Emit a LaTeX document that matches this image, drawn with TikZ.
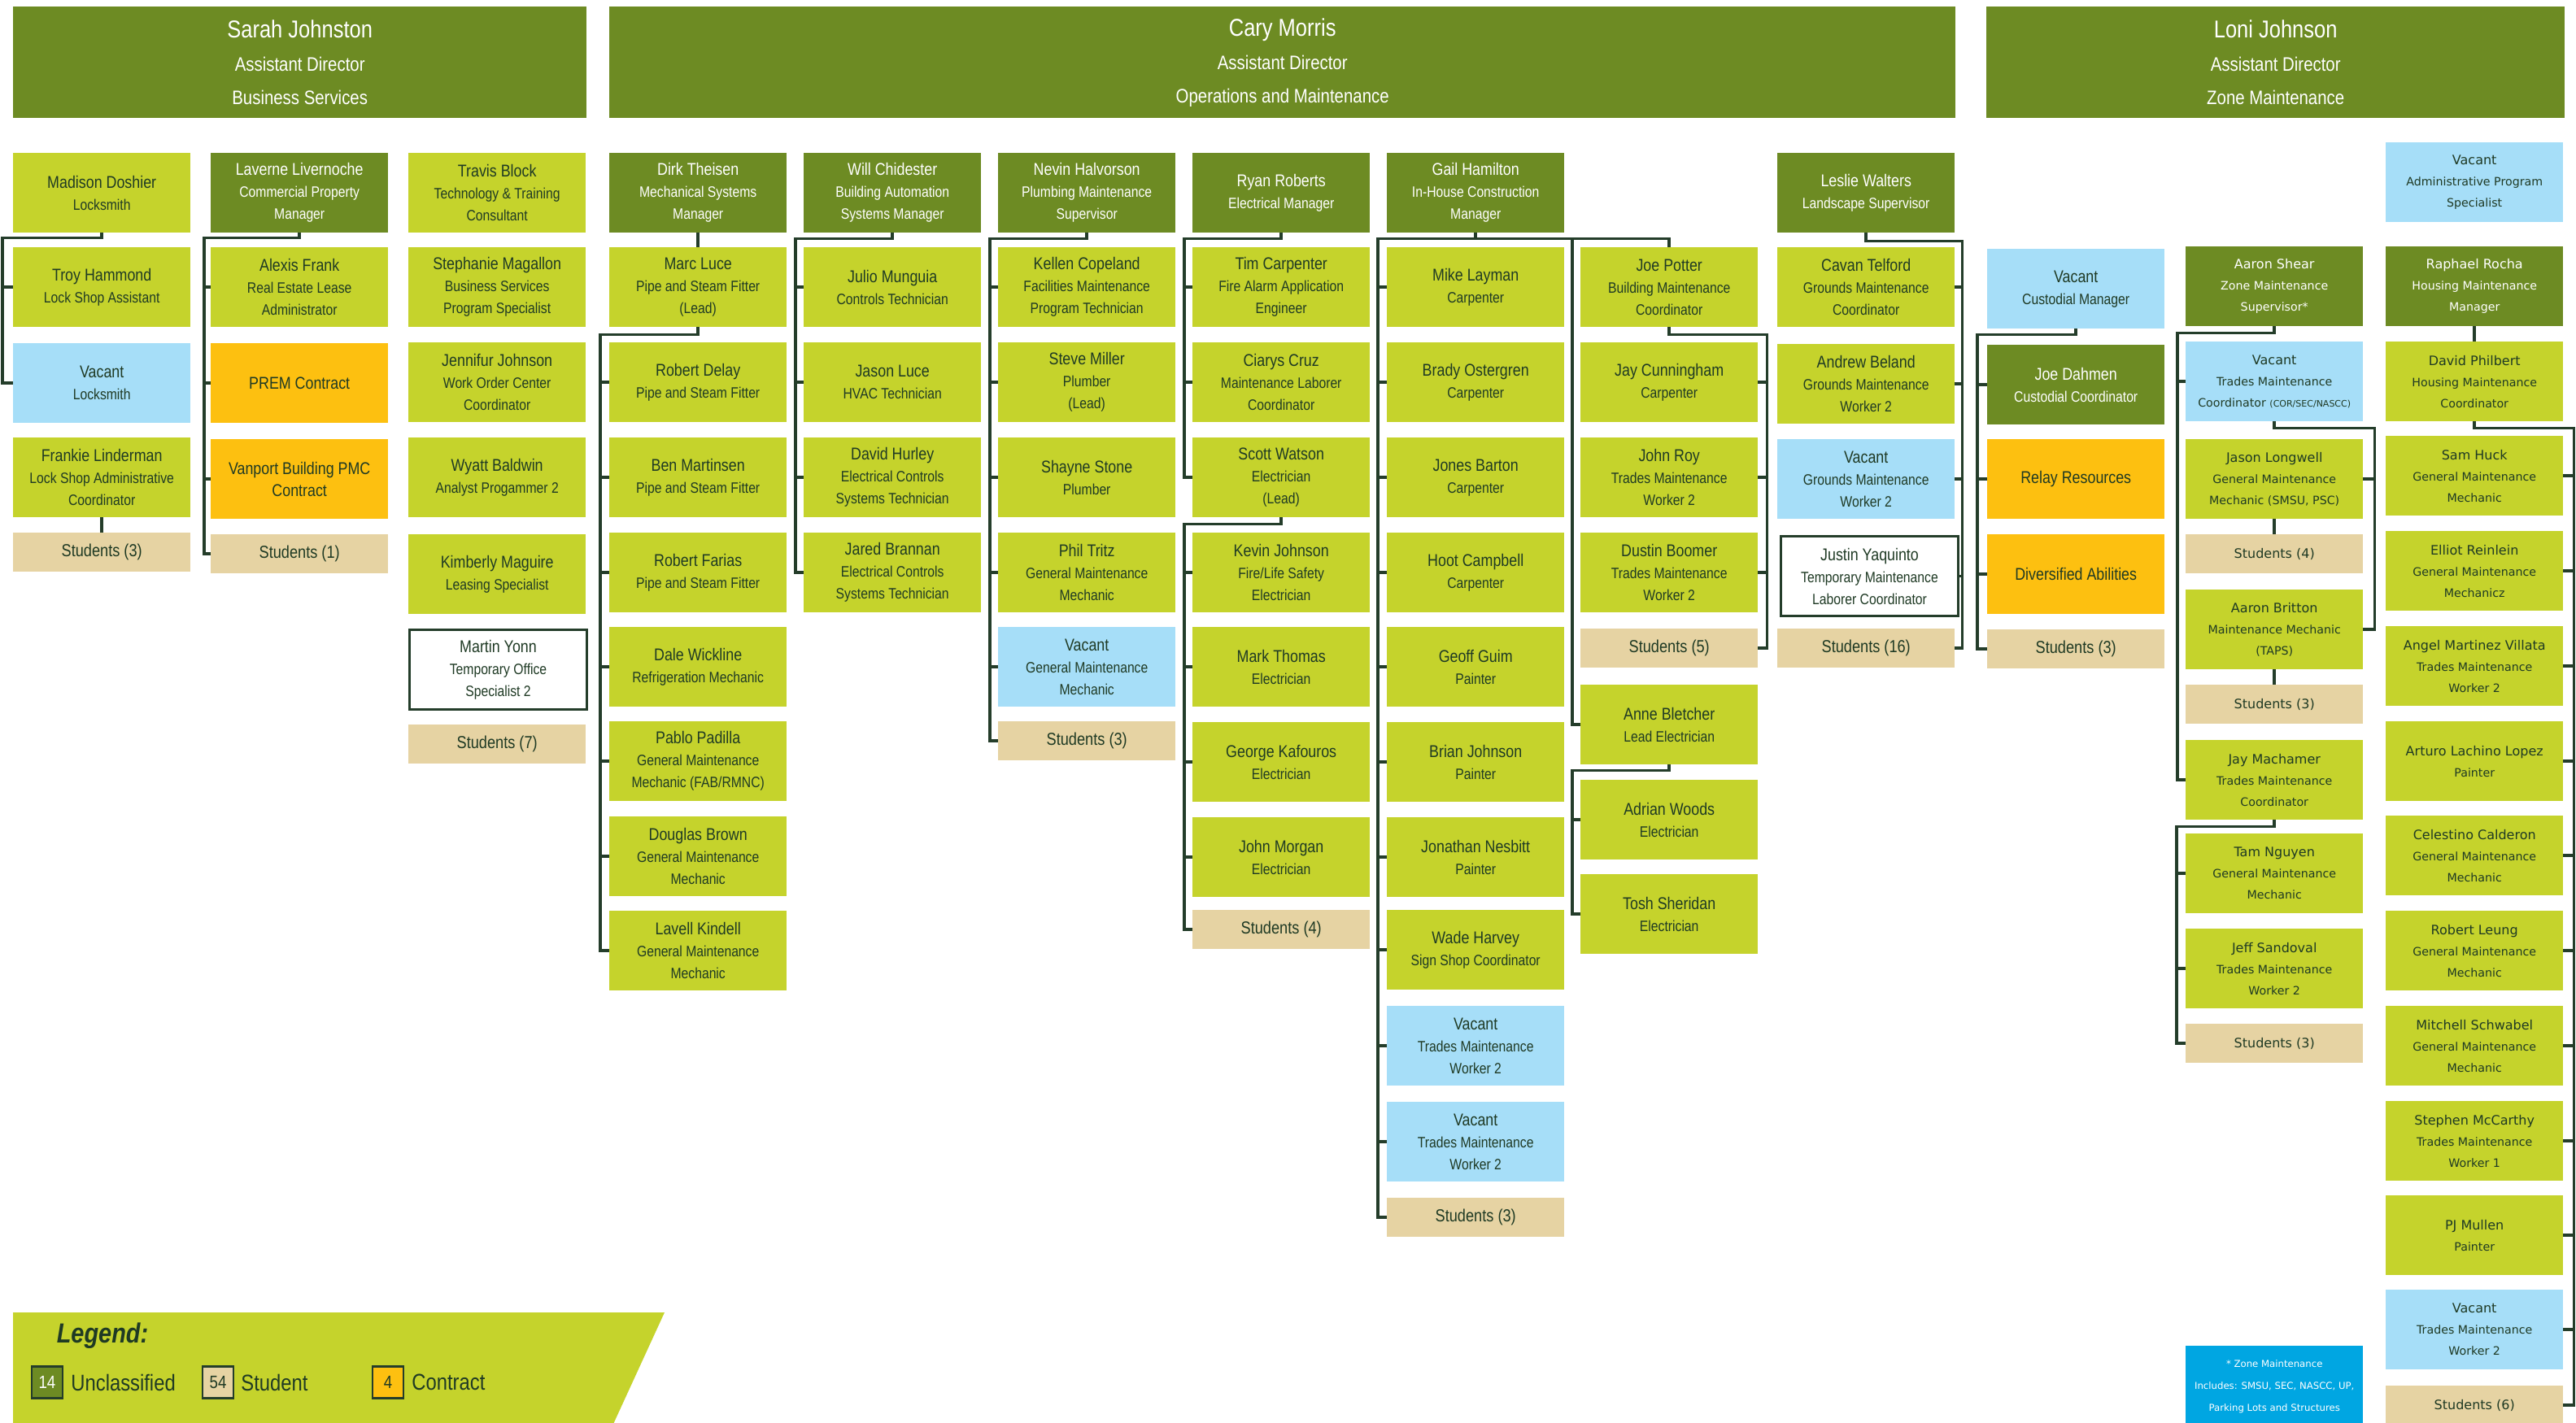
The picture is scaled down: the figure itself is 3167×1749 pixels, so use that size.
\documentclass[tikz,border=0pt]{standalone}
\usepackage{fontspec}
\newfontfamily\cfont[FakeStretch=0.85]{Liberation Sans}
\newfontfamily\dfont{DejaVu Sans}
\usetikzlibrary{positioning}
\definecolor{dkgreen}{HTML}{6D8B23}
\definecolor{ltgreen}{HTML}{C5D32C}
\definecolor{vacblue}{HTML}{A6DEF8}
\definecolor{congold}{HTML}{FDC010}
\definecolor{stubeige}{HTML}{E6D3A3}
\definecolor{noteblue}{HTML}{00A6E2}
\definecolor{ink}{HTML}{1F3A24}
\definecolor{wirec}{HTML}{243D2A}
\newcommand\nm[1]{{\fontsize{21}{27}\selectfont #1}}
\newcommand\zn[1]{{\fontsize{16}{26}\selectfont #1}}
\tikzset{
  post/.style={anchor=north west,inner sep=0pt,minimum width=218pt,minimum height=98pt,align=center,text=ink,font=\cfont\fontsize{18.5}{27}\selectfont},
  unc/.style={post,fill=dkgreen,text=white},
  cls/.style={post,fill=ltgreen},
  vac/.style={post,fill=vacblue},
  con/.style={post,fill=congold,font=\cfont\fontsize{21}{27}\selectfont},
  stu/.style={post,fill=stubeige,minimum height=48pt,font=\cfont\fontsize{21.4}{27}\selectfont},
  tmp/.style={post,fill=white,draw=wirec,line width=3pt},
  zone/.style={font=\dfont\fontsize{14.2}{26}\selectfont},
  zstu/.style={font=\dfont\fontsize{16}{26}\selectfont},
  head/.style={anchor=north west,inner sep=0pt,minimum height=137pt,fill=dkgreen,text=white,align=center,font=\cfont\fontsize{24}{41}\selectfont},
  wire/.style={draw=wirec,line width=3.5pt},
  key/.style={draw=wirec,line width=2.5pt,minimum width=38pt,minimum height=39pt,inner sep=0pt,font=\cfont\fontsize{22}{22}\selectfont},
  keytext/.style={inner sep=0pt,text=ink,font=\cfont\fontsize{28}{28}\selectfont}
}
\begin{document}
\begin{tikzpicture}[x=1pt,y=-1pt]
\fill[white] (0,0) rectangle (3167,1749);
\useasboundingbox (0,0) rectangle (3167,1749);
\node[head,minimum width=705pt] (sarah) at (16,8) {{\fontsize{30}{41}\selectfont Sarah Johnston}\\Assistant Director\\Business Services};
\node[head,minimum width=1655pt] (cary) at (749,8) {{\fontsize{30}{41}\selectfont Cary Morris}\\Assistant Director\\Operations and Maintenance};
\node[head,minimum width=711pt] (loni) at (2442,8) {{\fontsize{30}{41}\selectfont Loni Johnson}\\Assistant Director\\Zone Maintenance};

\node[cls] (madison) at (16,188) {\nm{Madison Doshier}\\Locksmith};
\node[cls] (troy) at (16,304) {\nm{Troy Hammond}\\Lock Shop Assistant};
\node[vac] (vaclock) at (16,422) {\nm{Vacant}\\Locksmith};
\node[cls] (frankie) at (16,538) {\nm{Frankie Linderman}\\Lock Shop Administrative\\Coordinator};
\node[stu] (stua) at (16,655) {Students (3)};

\node[unc] (laverne) at (259,188) {\nm{Laverne Livernoche}\\Commercial Property\\Manager};
\node[cls] (alexis) at (259,304) {\nm{Alexis Frank}\\Real Estate Lease\\Administrator};
\node[con] (prem) at (259,422) {PREM Contract};
\node[con] (vanport) at (259,540) {Vanport Building PMC\\Contract};
\node[stu] (stub) at (259,657) {Students (1)};

\node[cls] (travis) at (502,188) {\nm{Travis Block}\\Technology \& Training\\Consultant};
\node[cls] (stephanie) at (502,304) {\nm{Stephanie Magallon}\\Business Services\\Program Specialist};
\node[cls] (jennifur) at (502,421) {\nm{Jennifur Johnson}\\Work Order Center\\Coordinator};
\node[cls] (wyatt) at (502,538) {\nm{Wyatt Baldwin}\\Analyst Progammer 2};
\node[cls] (kimberly) at (502,657) {\nm{Kimberly Maguire}\\Leasing Specialist};
\node[tmp] (martin) at (502,773) {\nm{Martin Yonn}\\Temporary Office\\Specialist 2};
\node[stu] (stuc) at (502,891) {Students (7)};

\node[unc] (dirk) at (749,188) {\nm{Dirk Theisen}\\Mechanical Systems\\Manager};
\node[cls] (marc) at (749,304) {\nm{Marc Luce}\\Pipe and Steam Fitter\\(Lead)};
\node[cls] (delay) at (749,421) {\nm{Robert Delay}\\Pipe and Steam Fitter};
\node[cls] (benm) at (749,538) {\nm{Ben Martinsen}\\Pipe and Steam Fitter};
\node[cls] (farias) at (749,655) {\nm{Robert Farias}\\Pipe and Steam Fitter};
\node[cls] (dale) at (749,771) {\nm{Dale Wickline}\\Refrigeration Mechanic};
\node[cls] (pablo) at (749,887) {\nm{Pablo Padilla}\\General Maintenance\\Mechanic (FAB/RMNC)};
\node[cls] (douglas) at (749,1004) {\nm{Douglas Brown}\\General Maintenance\\Mechanic};
\node[cls] (lavell) at (749,1120) {\nm{Lavell Kindell}\\General Maintenance\\Mechanic};

\node[unc] (will) at (988,188) {\nm{Will Chidester}\\Building Automation\\Systems Manager};
\node[cls] (julio) at (988,304) {\nm{Julio Munguia}\\Controls Technician};
\node[cls] (jluce) at (988,421) {\nm{Jason Luce}\\HVAC Technician};
\node[cls] (hurley) at (988,538) {\nm{David Hurley}\\Electrical Controls\\Systems Technician};
\node[cls] (brannan) at (988,655) {\nm{Jared Brannan}\\Electrical Controls\\Systems Technician};

\node[unc] (nevin) at (1227,188) {\nm{Nevin Halvorson}\\Plumbing Maintenance\\Supervisor};
\node[cls] (kellen) at (1227,304) {\nm{Kellen Copeland}\\Facilities Maintenance\\Program Technician};
\node[cls] (smiller) at (1227,421) {\nm{Steve Miller}\\Plumber\\(Lead)};
\node[cls] (shayne) at (1227,538) {\nm{Shayne Stone}\\Plumber};
\node[cls] (tritz) at (1227,655) {\nm{Phil Tritz}\\General Maintenance\\Mechanic};
\node[vac] (vacgmm) at (1227,771) {\nm{Vacant}\\General Maintenance\\Mechanic};
\node[stu] (stud) at (1227,887) {Students (3)};

\node[unc] (ryan) at (1466,188) {\nm{Ryan Roberts}\\Electrical Manager};
\node[cls] (tim) at (1466,304) {\nm{Tim Carpenter}\\Fire Alarm Application\\Engineer};
\node[cls] (ciarys) at (1466,421) {\nm{Ciarys Cruz}\\Maintenance Laborer\\Coordinator};
\node[cls] (scott) at (1466,538) {\nm{Scott Watson}\\Electrician\\(Lead)};
\node[cls] (kevin) at (1466,655) {\nm{Kevin Johnson}\\Fire/Life Safety\\Electrician};
\node[cls] (mark) at (1466,771) {\nm{Mark Thomas}\\Electrician};
\node[cls] (george) at (1466,888) {\nm{George Kafouros}\\Electrician};
\node[cls] (morgan) at (1466,1005) {\nm{John Morgan}\\Electrician};
\node[stu] (stue) at (1466,1119) {Students (4)};

\node[unc] (gail) at (1705,188) {\nm{Gail Hamilton}\\In-House Construction\\Manager};
\node[cls] (layman) at (1705,304) {\nm{Mike Layman}\\Carpenter};
\node[cls] (brady) at (1705,421) {\nm{Brady Ostergren}\\Carpenter};
\node[cls] (jones) at (1705,538) {\nm{Jones Barton}\\Carpenter};
\node[cls] (hoot) at (1705,655) {\nm{Hoot Campbell}\\Carpenter};
\node[cls] (geoff) at (1705,771) {\nm{Geoff Guim}\\Painter};
\node[cls] (bjohnson) at (1705,888) {\nm{Brian Johnson}\\Painter};
\node[cls] (nesbitt) at (1705,1005) {\nm{Jonathan Nesbitt}\\Painter};
\node[cls] (wade) at (1705,1119) {\nm{Wade Harvey}\\Sign Shop Coordinator};
\node[vac] (vacta) at (1705,1237) {\nm{Vacant}\\Trades Maintenance\\Worker 2};
\node[vac] (vactb) at (1705,1355) {\nm{Vacant}\\Trades Maintenance\\Worker 2};
\node[stu] (stuf) at (1705,1473) {Students (3)};

\node[cls] (potter) at (1943,304) {\nm{Joe Potter}\\Building Maintenance\\Coordinator};
\node[cls] (cunningham) at (1943,421) {\nm{Jay Cunningham}\\Carpenter};
\node[cls] (roy) at (1943,538) {\nm{John Roy}\\Trades Maintenance\\Worker 2};
\node[cls] (boomer) at (1943,655) {\nm{Dustin Boomer}\\Trades Maintenance\\Worker 2};
\node[stu] (stug) at (1943,773) {Students (5)};
\node[cls] (anne) at (1943,842) {\nm{Anne Bletcher}\\Lead Electrician};
\node[cls] (woods) at (1943,959) {\nm{Adrian Woods}\\Electrician};
\node[cls] (sheridan) at (1943,1075) {\nm{Tosh Sheridan}\\Electrician};

\node[unc] (leslie) at (2185,188) {\nm{Leslie Walters}\\Landscape Supervisor};
\node[cls] (telford) at (2185,304) {\nm{Cavan Telford}\\Grounds Maintenance\\Coordinator};
\node[cls] (beland) at (2185,423) {\nm{Andrew Beland}\\Grounds Maintenance\\Worker 2};
\node[vac] (vacgmw) at (2185,540) {\nm{Vacant}\\Grounds Maintenance\\Worker 2};
\node[tmp] (yaquinto) at (2188,658) {\nm{Justin Yaquinto}\\Temporary Maintenance\\Laborer Coordinator};
\node[stu] (stuh) at (2185,773) {Students (16)};

\node[vac] (vaccust) at (2443,306) {\nm{Vacant}\\Custodial Manager};
\node[unc] (dahmen) at (2443,424) {\nm{Joe Dahmen}\\Custodial Coordinator};
\node[con] (relay) at (2443,540) {Relay Resources};
\node[con] (divers) at (2443,657) {Diversified Abilities};
\node[stu] (stui) at (2443,774) {Students (3)};

\node[unc,zone] (shear) at (2687,303) {\zn{Aaron Shear}\\Zone Maintenance\\Supervisor*};
\node[vac,zone] (vactmc) at (2687,420) {\zn{Vacant}\\Trades Maintenance\\Coordinator {\fontsize{11}{26}\selectfont(COR/SEC/NASCC)}};
\node[cls,zone] (longwell) at (2687,540) {\zn{Jason Longwell}\\General Maintenance\\Mechanic (SMSU, PSC)};
\node[stu,zstu] (stuj) at (2687,657) {Students (4)};
\node[cls,zone] (britton) at (2687,725) {\zn{Aaron Britton}\\Maintenance Mechanic\\(TAPS)};
\node[stu,zstu] (stuk) at (2687,842) {Students (3)};
\node[cls,zone] (machamer) at (2687,910) {\zn{Jay Machamer}\\Trades Maintenance\\Coordinator};
\node[cls,zone] (nguyen) at (2687,1025) {\zn{Tam Nguyen}\\General Maintenance\\Mechanic};
\node[cls,zone] (sandoval) at (2687,1142) {\zn{Jeff Sandoval}\\Trades Maintenance\\Worker 2};
\node[stu,zstu] (stul) at (2687,1259) {Students (3)};
\node[post,fill=noteblue,text=white,minimum height=100pt,font=\dfont\fontsize{11.7}{27}\selectfont] (zonenote) at (2687,1655) {* Zone Maintenance\\Includes: SMSU, SEC, NASCC, UP,\\Parking Lots and Structures};

\node[vac,zone] (vacadmin) at (2933,175) {\zn{Vacant}\\Administrative Program\\Specialist};
\node[unc,zone] (rocha) at (2933,303) {\zn{Raphael Rocha}\\Housing Maintenance\\Manager};
\node[cls,zone] (philbert) at (2933,420) {\zn{David Philbert}\\Housing Maintenance\\Coordinator};
\node[cls,zone] (huck) at (2933,536) {\zn{Sam Huck}\\General Maintenance\\Mechanic};
\node[cls,zone] (reinlein) at (2933,653) {\zn{Elliot Reinlein}\\General Maintenance\\Mechanicz};
\node[cls,zone] (villata) at (2933,770) {\zn{Angel Martinez Villata}\\Trades Maintenance\\Worker 2};
\node[cls,zone] (lopez) at (2933,887) {\zn{Arturo Lachino Lopez}\\Painter};
\node[cls,zone] (calderon) at (2933,1003) {\zn{Celestino Calderon}\\General Maintenance\\Mechanic};
\node[cls,zone] (leung) at (2933,1120) {\zn{Robert Leung}\\General Maintenance\\Mechanic};
\node[cls,zone] (schwabel) at (2933,1237) {\zn{Mitchell Schwabel}\\General Maintenance\\Mechanic};
\node[cls,zone] (mccarthy) at (2933,1354) {\zn{Stephen McCarthy}\\Trades Maintenance\\Worker 1};
\node[cls,zone] (mullen) at (2933,1470) {\zn{PJ Mullen}\\Painter};
\node[vac,zone] (vactmw) at (2933,1586) {\zn{Vacant}\\Trades Maintenance\\Worker 2};
\node[stu,zstu] (stum) at (2933,1704) {Students (6)};

\draw[wire] (madison.south) -- ++(0,6) -| ([xshift=-13pt]vaclock.west) -- (vaclock.west);
\draw[wire] ([xshift=-13pt]troy.west) -- (troy.west);
\draw[wire] (frankie.south) -- (stua.north);
\draw[wire] (laverne.south) -- ++(0,6) -| ([xshift=-8pt]stub.west) -- (stub.west);
\foreach \n in {alexis,prem,vanport} \draw[wire] ([xshift=-8pt]\n.west) -- (\n.west);
\draw[wire] (dirk.south) -- (marc.north);
\draw[wire] (marc.south) -- ++(0,9) -| ([xshift=-11pt]lavell.west) -- (lavell.west);
\foreach \n in {delay,benm,farias,dale,pablo,douglas} \draw[wire] ([xshift=-11pt]\n.west) -- (\n.west);
\draw[wire] (will.south) -- ++(0,7) -| ([xshift=-10pt]brannan.west) -- (brannan.west);
\foreach \n in {julio,jluce,hurley} \draw[wire] ([xshift=-10pt]\n.west) -- (\n.west);
\draw[wire] (nevin.south) -- ++(0,7) -| ([xshift=-10pt]stud.west) -- (stud.west);
\foreach \n in {kellen,smiller,shayne,tritz,vacgmm} \draw[wire] ([xshift=-10pt]\n.west) -- (\n.west);
\draw[wire] (ryan.south) -- ++(0,7) -| ([xshift=-10pt]scott.west) -- (scott.west);
\foreach \n in {tim,ciarys} \draw[wire] ([xshift=-10pt]\n.west) -- (\n.west);
\draw[wire] (scott.south) -- ++(0,8) -| ([xshift=-10pt]stue.west) -- (stue.west);
\foreach \n in {kevin,mark,george,morgan} \draw[wire] ([xshift=-10pt]\n.west) -- (\n.west);
\draw[wire] (gail.south) -- ++(0,7) coordinate (gj) -| ([xshift=-11pt]stuf.west) -- (stuf.west);
\foreach \n in {layman,brady,jones,hoot,geoff,bjohnson,nesbitt,wade,vacta,vactb} \draw[wire] ([xshift=-11pt]\n.west) -- (\n.west);
\draw[wire] (gj) -| (potter.north);
\draw[wire] ([xshift=-10pt]anne.west |- gj) |- (anne.west);
\draw[wire] (potter.south) -- ++(0,9) -| ([xshift=11pt]stug.east) -- (stug.east);
\foreach \n in {cunningham,roy,boomer} \draw[wire] ([xshift=11pt]\n.east) -- (\n.east);
\draw[wire] (anne.south) -- ++(0,7) -| ([xshift=-10pt]sheridan.west) -- (sheridan.west);
\draw[wire] ([xshift=-10pt]woods.west) -- (woods.west);
\coordinate (lw) at ([xshift=9pt]stuh.east);
\draw[wire] (leslie.south) -- ++(0,10) -| (lw) -- (stuh.east);
\foreach \n in {telford,beland,vacgmw,yaquinto} \draw[wire] (\n.east) -- (\n.east -| lw);
\draw[wire] (vaccust.south) -- ++(0,7) -| ([xshift=-12pt]stui.west) -- (stui.west);
\foreach \n in {dahmen,relay,divers} \draw[wire] ([xshift=-12pt]\n.west) -- (\n.west);
\draw[wire] (shear.south) -- ++(0,8) -| ([xshift=-10pt]machamer.west) -- (machamer.west);
\draw[wire] ([xshift=-10pt]vactmc.west) -- (vactmc.west);
\draw[wire] (vactmc.south) -- ++(0,8) -| ([xshift=14pt]britton.east) -- (britton.east);
\draw[wire] ([xshift=14pt]longwell.east) -- (longwell.east);
\draw[wire] (longwell.south) -- (stuj.north);
\draw[wire] (britton.south) -- (stuk.north);
\draw[wire] (machamer.south) -- ++(0,8) -| ([xshift=-11pt]stul.west) -- (stul.west);
\foreach \n in {nguyen,sandoval} \draw[wire] ([xshift=-11pt]\n.west) -- (\n.west);
\draw[wire] (rocha.south) -- (philbert.north);
\draw[wire] (philbert.south) -- ++(0,8) -| ([xshift=13pt]stum.east) -- (stum.east);
\foreach \n in {huck,reinlein,villata,lopez,calderon,leung,schwabel,mccarthy,mullen,vactmw} \draw[wire] ([xshift=13pt]\n.east) -- (\n.east);

\fill[ltgreen] (16,1614) -- (817,1614) -- (750,1760) -- (16,1760) -- cycle;
\node[inner sep=0pt,text=ink,font=\cfont\bfseries\itshape\fontsize{34}{34}\selectfont] (legend) at (126,1643) {Legend:};
\node[key,fill=dkgreen,text=white] (kunc) at (58,1700) {14};
\node[keytext,right=9pt of kunc] (tunc) {Unclassified};
\node[key,fill=stubeige,text=ink] (kstu) at (268,1700) {54};
\node[keytext,right=8pt of kstu] (tstu) {Student};
\node[key,fill=congold,text=ink] (kcon) at (477,1700) {4};
\node[keytext,right=9pt of kcon] (tcon) {Contract};
\end{tikzpicture}
\end{document}
